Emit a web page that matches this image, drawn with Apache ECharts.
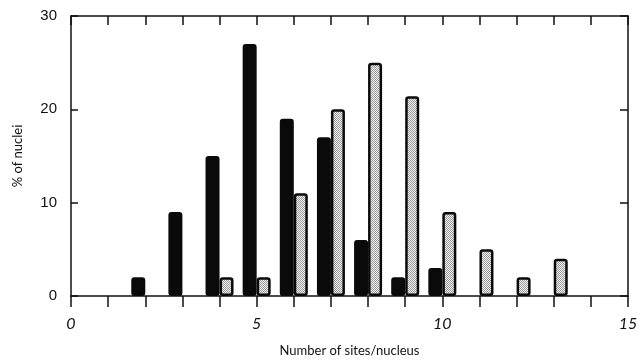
<!DOCTYPE html>
<html><head><meta charset="utf-8">
<script src="https://cdn.jsdelivr.net/npm/echarts@6/dist/echarts.min.js"></script>
<style>html,body{margin:0;padding:0;background:#fff}#c{width:641px;height:363px}</style>
</head><body><div id="c"></div>
<script>
// Data
const blackX = [2, 3, 4, 5, 6, 7, 8, 9, 10];
const blackY = [2, 9, 15, 27, 19, 17, 6, 2, 3];
const dottedX = [4, 5, 6, 7, 8, 9, 10, 11, 12, 13];
const dottedY = [2, 2, 11, 20, 25, 21.4, 9, 5, 2, 4];
const xLabels = ['0', '5', '10', '15'];
const yLabels = ['0', '10', '20', '30'];
const xTitle = 'Number of sites/nucleus';
const yTitle = '% of nuclei';

// dotted fill pattern (fine checker)
const pc = document.createElement('canvas');
pc.width = 2; pc.height = 2;
const g = pc.getContext('2d');
g.fillStyle = '#f2f2f2'; g.fillRect(0, 0, 2, 2);
g.fillStyle = '#9a9a9a';
g.fillRect(0, 0, 1, 1); g.fillRect(1, 1, 1, 1);

const chart = echarts.init(document.getElementById('c'), null, {renderer: 'canvas'});
const font = 'Lato, "Liberation Sans", sans-serif';
chart.setOption({
  animation: false,
  backgroundColor: '#fff',
  grid: {left: 71, right: 13, top: 16, bottom: 67},
  xAxis: [{
    type: 'value', min: 0, max: 15, interval: 1, position: 'bottom',
    name: xTitle, nameLocation: 'middle', nameGap: 48,
    nameTextStyle: {fontFamily: font, fontSize: 13, color: '#111'},
    axisLine: {show: true, onZero: false, lineStyle: {color: '#111', width: 1.5}},
    axisTick: {show: true, inside: false, length: 11, lineStyle: {color: '#111', width: 1.5}},
    axisLabel: {margin: 20, fontFamily: font, fontSize: 16, fontStyle: 'italic', color: '#111',
      formatter: v => (xLabels.indexOf(String(v)) >= 0 ? String(v) : '')},
    splitLine: {show: false}
  }, {
    type: 'value', min: 0, max: 15, interval: 1, position: 'top',
    axisLine: {show: true, onZero: false, lineStyle: {color: '#111', width: 1.5}},
    axisTick: {show: true, inside: true, length: 9, lineStyle: {color: '#111', width: 1.5}},
    axisLabel: {show: false}, splitLine: {show: false}
  }],
  yAxis: [{
    type: 'value', min: 0, max: 30, interval: 10, position: 'left',
    name: yTitle, nameLocation: 'middle', nameGap: 47, nameRotate: 90,
    nameTextStyle: {fontFamily: font, fontSize: 13, color: '#111'},
    axisLine: {show: true, onZero: false, lineStyle: {color: '#111', width: 1.5}},
    axisTick: {show: true, inside: true, length: 7, lineStyle: {color: '#111', width: 1.5}},
    axisLabel: {margin: 14, fontFamily: '"Liberation Sans", sans-serif', fontSize: 15, color: '#111',
      formatter: v => (yLabels.indexOf(String(v)) >= 0 ? String(v) : '')},
    splitLine: {show: false}
  }, {
    type: 'value', min: 0, max: 30, interval: 10, position: 'right',
    axisLine: {show: true, onZero: false, lineStyle: {color: '#111', width: 1.5}},
    axisTick: {show: true, inside: true, length: 8, lineStyle: {color: '#111', width: 1.5}},
    axisLabel: {show: false}, splitLine: {show: false}
  }],
  series: [{
    type: 'bar', xAxisIndex: 0, yAxisIndex: 0,
    data: blackX.map((x, i) => [x, blackY[i]]),
    barWidth: 14, barGap: '0%',
    itemStyle: {color: '#0a0a0a', borderColor: '#0a0a0a', borderWidth: 2, borderRadius: 2}
  }, {
    type: 'bar', xAxisIndex: 0, yAxisIndex: 0,
    data: dottedX.map((x, i) => [x, dottedY[i]]),
    barWidth: 14, barGap: '0%',
    itemStyle: {color: {image: pc, repeat: 'repeat'}, borderColor: '#0a0a0a', borderWidth: 2.5, borderRadius: 2}
  }]
});
</script></body></html>
